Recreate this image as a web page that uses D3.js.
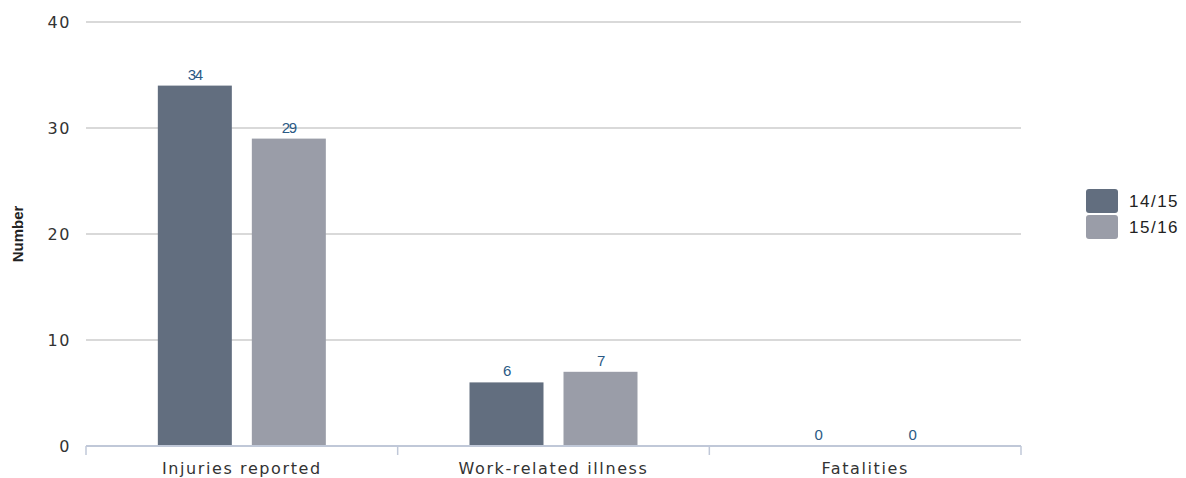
<!DOCTYPE html>
<html>
<head>
<meta charset="utf-8">
<script src="https://cdn.jsdelivr.net/npm/d3@7"></script>
<style>
  body { margin: 0; background: #fff; }
  svg { display: block; }
</style>
</head>
<body>
<svg id="chart"></svg>
<script>
const categories = ['Injuries reported', 'Work-related illness', 'Fatalities'];
const seriesNames = ['14/15', '15/16'];
const values1415 = [34, 6, 0];
const values1516 = [29, 7, 0];
const yTicks = [0, 10, 20, 30, 40];

const width = 1186, height = 478;
const margin = { top: 22, right: 165, bottom: 32, left: 86 };
const innerWidth = width - margin.left - margin.right;
const innerHeight = height - margin.top - margin.bottom;
const colors = ['#626e7f', '#9a9da8'];

const svg = d3.select('#chart')
  .attr('width', width)
  .attr('height', height);

const g = svg.append('g')
  .attr('transform', `translate(${margin.left},${margin.top})`);

const x = d3.scaleBand()
  .domain(categories)
  .range([0, innerWidth]);

// two bars of ~74px with a 20px gap, centred in each category
const half = 84;
const x1 = d3.scaleBand()
  .domain(seriesNames)
  .range([x.bandwidth() / 2 - half, x.bandwidth() / 2 + half])
  .paddingInner(20 / 94);

const y = d3.scaleLinear()
  .domain([0, 40])
  .range([innerHeight, 0]);

// grid
g.append('g')
  .selectAll('line')
  .data(yTicks.filter(d => d > 0))
  .enter()
  .append('line')
  .attr('x1', 0)
  .attr('x2', innerWidth)
  .attr('y1', d => y(d))
  .attr('y2', d => y(d))
  .attr('stroke', '#cccccc')
  .attr('stroke-width', 1.5);

// y tick labels
g.append('g')
  .selectAll('text')
  .data(yTicks)
  .enter()
  .append('text')
  .attr('x', -15)
  .attr('y', d => y(d) + 6)
  .attr('text-anchor', 'end')
  .style('font-family', 'DejaVu Sans, sans-serif')
  .style('font-size', '16px')
  .style('letter-spacing', '1.6px')
  .attr('fill', '#333')
  .text(d => d);

// y axis title
svg.append('text')
  .attr('transform', `translate(23,${margin.top + innerHeight / 2}) rotate(-90)`)
  .attr('text-anchor', 'middle')
  .style('font-family', 'Liberation Sans, Arial, sans-serif')
  .style('font-size', '15px')
  .style('font-weight', 'bold')
  .attr('fill', '#222')
  .text('Number');

const rows = categories.map((c, i) => ({
  cat: c,
  vals: [values1415[i], values1516[i]]
}));

// bars
const groups = g.selectAll('.grp')
  .data(rows)
  .enter()
  .append('g')
  .attr('transform', d => `translate(${x(d.cat)},0)`);

groups.selectAll('rect')
  .data(d => d.vals.map((v, i) => ({ key: seriesNames[i], v, i })))
  .enter()
  .append('rect')
  .attr('x', d => x1(d.key))
  .attr('width', x1.bandwidth())
  .attr('y', d => y(d.v))
  .attr('height', d => innerHeight - y(d.v))
  .attr('fill', d => colors[d.i]);

groups.selectAll('.lbl')
  .data(d => d.vals.map((v, i) => ({ key: seriesNames[i], v, i })))
  .enter()
  .append('text')
  .attr('x', d => x1(d.key) + x1.bandwidth() / 2)
  .attr('y', d => y(d.v) - 6)
  .attr('text-anchor', 'middle')
  .style('font-family', 'Liberation Sans, Arial, sans-serif')
  .style('font-size', '15px')
  .style('letter-spacing', '-1.2px')
  .attr('fill', '#2b5a85')
  .text(d => d.v);

// x axis
const xAxis = g.append('g')
  .attr('transform', `translate(0,${innerHeight})`);

xAxis.append('line')
  .attr('x1', 0)
  .attr('x2', innerWidth)
  .attr('stroke', '#c0c8d8')
  .attr('stroke-width', 2);

const tickPos = categories.map(c => x(c)).concat([innerWidth]);
xAxis.selectAll('.tick')
  .data(tickPos)
  .enter()
  .append('line')
  .attr('x1', d => d)
  .attr('x2', d => d)
  .attr('y1', 0)
  .attr('y2', 9)
  .attr('stroke', '#c0c8d8')
  .attr('stroke-width', 1.5);

xAxis.selectAll('.cat')
  .data(categories)
  .enter()
  .append('text')
  .attr('x', d => x(d) + x.bandwidth() / 2)
  .attr('y', 28)
  .attr('text-anchor', 'middle')
  .style('font-family', 'DejaVu Sans, sans-serif')
  .style('font-size', '16px')
  .style('letter-spacing', '1.6px')
  .attr('fill', '#333')
  .text(d => d);

// legend
const legend = svg.append('g')
  .attr('transform', 'translate(1086,189)');

const items = legend.selectAll('g')
  .data(seriesNames)
  .enter()
  .append('g')
  .attr('transform', (d, i) => `translate(0,${i * 26})`);

items.append('rect')
  .attr('width', 32)
  .attr('height', 24)
  .attr('rx', 3)
  .attr('fill', (d, i) => colors[i]);

items.append('text')
  .attr('x', 43)
  .attr('y', 18)
  .style('font-family', 'Liberation Sans, Arial, sans-serif')
  .style('font-size', '17px')
  .style('letter-spacing', '1.5px')
  .attr('fill', '#222')
  .text(d => d);
</script>
</body>
</html>
